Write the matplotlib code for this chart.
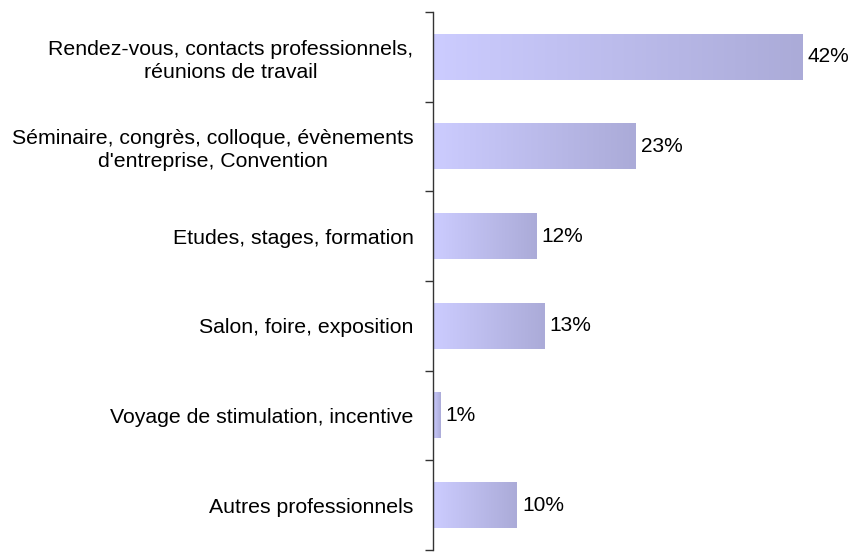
import matplotlib
matplotlib.use("Agg")
import matplotlib.pyplot as plt
import numpy as np
from matplotlib.colors import LinearSegmentedColormap

categories = [
    "Rendez-vous, contacts professionnels,\nréunions de travail",
    "Séminaire, congrès, colloque, évènements\nd'entreprise, Convention",
    "Etudes, stages, formation",
    "Salon, foire, exposition",
    "Voyage de stimulation, incentive",
    "Autres professionnels",
]
values = [41.9, 23.0, 11.7, 12.6, 0.8, 9.5]
value_labels = ["42%", "23%", "12%", "13%", "1%", "10%"]

plt.rcParams['font.family'] = ['Liberation Sans', 'DejaVu Sans']

W, H = 866, 555
fig = plt.figure(figsize=(W / 100, H / 100), dpi=100)
left_px, right_px = 433, 856
top_px, bot_px = 12, 550
ax = fig.add_axes([left_px / W, 1 - bot_px / H, (right_px - left_px) / W, (bot_px - top_px) / H])

n = len(categories)
xmax = (right_px - left_px) / 8.81

cmap = LinearSegmentedColormap.from_list("g", ["#CCCCFF", "#ABABD8"])
grad = np.linspace(0, 1, 256).reshape(1, -1)
bar_h = 0.51
for i, v in enumerate(values):
    y0 = i + 0.5 - bar_h / 2
    ax.imshow(grad, cmap=cmap, aspect='auto', extent=[0, v, y0 + bar_h, y0],
              interpolation='bilinear', zorder=2)
    ax.text(v + 0.6, i + 0.5, value_labels[i], va='center', ha='left', fontsize=15, color='black')

ax.set_xlim(0, xmax)
ax.set_ylim(n, 0)

for s in ['top', 'right', 'bottom']:
    ax.spines[s].set_visible(False)
ax.spines['left'].set_color('#333333')
ax.spines['left'].set_linewidth(1.0)
ax.set_xticks([])
ax.set_yticks(np.arange(0, n + 1))
ax.set_yticklabels([])
ax.tick_params(axis='y', length=6, width=1.0, color='#333333', direction='out')
ax.set_yticks(np.arange(n) + 0.5, minor=True)
ax.set_yticklabels(categories, minor=True, fontsize=15.3)
for lbl in ax.get_yticklabels(minor=True):
    lbl.set_horizontalalignment('right')
    lbl.set_multialignment('center')
    lbl.set_linespacing(1.25)
ax.tick_params(axis='y', which='minor', length=0, pad=14)

fig.savefig("out.png", dpi=100)
